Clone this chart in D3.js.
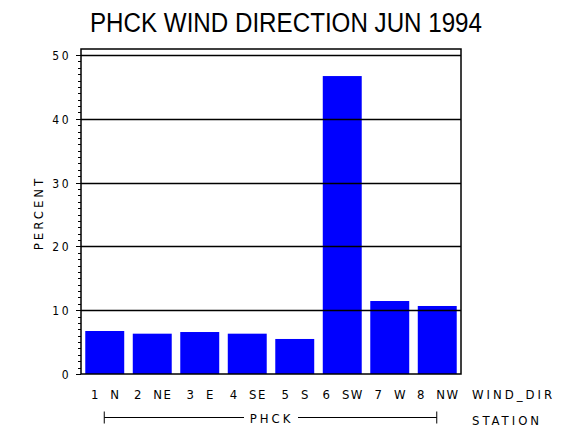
<!DOCTYPE html>
<html>
<head>
<meta charset="utf-8">
<script src="https://cdn.jsdelivr.net/npm/d3@7"></script>
<style>
  body { margin: 0; background: #fff; }
  svg { display: block; }
  text { font-family: "DejaVu Sans", sans-serif; fill: #000; font-stretch: condensed; }
</style>
</head>
<body>
<div id="chart"></div>
<script>
const categories = ['1  N', '2  NE', '3  E', '4  SE', '5  S', '6  SW', '7  W', '8  NW'];
const percents = [6.74, 6.32, 6.58, 6.32, 5.49, 46.7, 11.44, 10.66];
const yTicks = [0, 10, 20, 30, 40, 50];
const station = 'PHCK';
const title = 'PHCK WIND DIRECTION JUN 1994';

const width = 570;
const height = 430;
const plotLeft = 81, plotRight = 461, plotTop = 49, plotBottom = 374;

const svg = d3.select('#chart')
	.append('svg')
	.attr('width', width)
	.attr('height', height);

const x = d3.scaleBand()
	.domain(categories)
	.range([plotLeft, plotRight])
	.paddingInner(0.18)
	.paddingOuter(0.09);

const y = d3.scaleLinear()
	.domain([0, 50])
	.range([plotBottom, 55]);

// title
svg.append('text')
	.attr('x', 286)
	.attr('y', 32)
	.attr('text-anchor', 'middle')
	.attr('textLength', 392)
	.attr('lengthAdjust', 'spacingAndGlyphs')
	.style('font-family', '"Liberation Sans", Arial, sans-serif')
	.style('font-stretch', 'normal')
	.style('font-size', '27px')
	.text(title);

// bars
svg.selectAll('rect.bar')
	.data(percents)
	.enter()
	.append('rect')
	.attr('class', 'bar')
	.attr('x', (d, i) => x(categories[i]))
	.attr('y', d => y(d))
	.attr('width', x.bandwidth())
	.attr('height', d => y(0) - y(d))
	.attr('fill', '#0000ff');

// grid lines (drawn over bars)
svg.selectAll('line.grid')
	.data(yTicks.filter(d => d > 0))
	.enter()
	.append('line')
	.attr('class', 'grid')
	.attr('x1', plotLeft)
	.attr('x2', plotRight)
	.attr('y1', d => Math.round(y(d)) + 0.5)
	.attr('y2', d => Math.round(y(d)) + 0.5)
	.attr('stroke', '#000')
	.attr('stroke-width', 1.3);

// frame
svg.append('rect')
	.attr('x', plotLeft)
	.attr('y', plotTop)
	.attr('width', plotRight - plotLeft)
	.attr('height', plotBottom - plotTop)
	.attr('fill', 'none')
	.attr('stroke', '#000')
	.attr('stroke-width', 1.5);

// y axis: minor ticks every unit, major every 10
const minor = d3.range(0, 51);
svg.selectAll('line.ytick')
	.data(minor)
	.enter()
	.append('line')
	.attr('x1', d => d % 10 === 0 ? plotLeft - 5 : plotLeft - 3)
	.attr('x2', plotLeft)
	.attr('y1', d => Math.round(y(d)) + 0.5)
	.attr('y2', d => Math.round(y(d)) + 0.5)
	.attr('stroke', '#000')
	.attr('stroke-width', 1);

svg.selectAll('text.ylab')
	.data(yTicks)
	.enter()
	.append('text')
	.attr('x', 71)
	.attr('y', d => y(d) + 5)
	.attr('text-anchor', 'end')
	.style('font-size', '12px')
	.style('letter-spacing', '2.5px')
	.text(d => d);

svg.append('text')
	.attr('transform', 'translate(43,' + 213 + ') rotate(-90)')
	.attr('text-anchor', 'middle')
	.style('font-size', '13px')
	.style('letter-spacing', '3px')
	.text('PERCENT');

// x labels
svg.selectAll('text.xlab')
	.data(categories)
	.enter()
	.append('text')
	.attr('x', d => x(d) + x.bandwidth() / 2 + 1)
	.attr('y', 399)
	.attr('text-anchor', 'middle')
	.attr('xml:space', 'preserve')
	.style('white-space', 'pre')
	.style('font-size', '13px')
	.style('letter-spacing', '1.5px')
	.text(d => d);

svg.append('text')
	.attr('x', 472)
	.attr('y', 399)
	.style('font-size', '13px')
	.style('letter-spacing', '3px')
	.text('WIND_DIR');

svg.append('text')
	.attr('x', 472)
	.attr('y', 425)
	.style('font-size', '13px')
	.style('letter-spacing', '3px')
	.text('STATION');

// station bracket
const bx1 = x(categories[0]) + x.bandwidth() / 2 - 0.5;
const bx2 = x(categories[categories.length - 1]) + x.bandwidth() / 2 - 0.5;
const by = 417.5;
svg.append('line').attr('x1', bx1).attr('x2', 244).attr('y1', by).attr('y2', by).attr('stroke', '#000');
svg.append('line').attr('x1', 298).attr('x2', bx2).attr('y1', by).attr('y2', by).attr('stroke', '#000');
svg.append('line').attr('x1', bx1).attr('x2', bx1).attr('y1', by - 6).attr('y2', by + 6).attr('stroke', '#000');
svg.append('line').attr('x1', bx2).attr('x2', bx2).attr('y1', by - 6).attr('y2', by + 6).attr('stroke', '#000');
svg.append('text')
	.attr('x', (bx1 + bx2) / 2 + 1)
	.attr('y', 423)
	.attr('text-anchor', 'middle')
	.style('font-size', '13px')
	.style('letter-spacing', '3px')
	.text(station);
</script>
</body>
</html>
